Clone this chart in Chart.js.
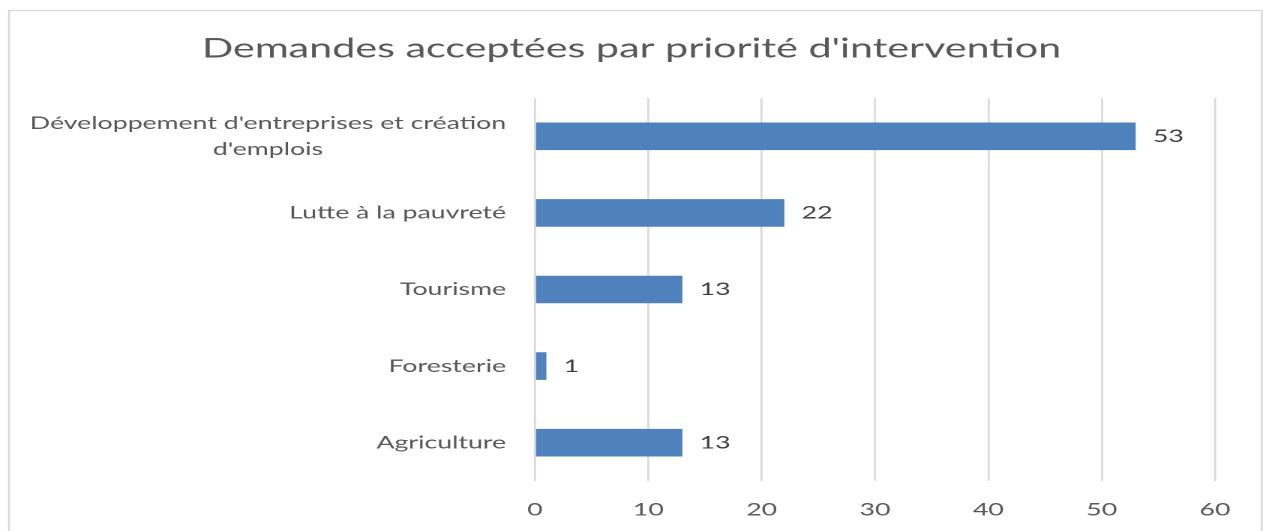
<!DOCTYPE html>
<html><head><meta charset="utf-8">
<script src="https://cdn.jsdelivr.net/npm/chart.js@4"></script>
<style>
html,body{margin:0;padding:0;background:#fff;overflow:hidden;width:1263px;height:531px;}
#wrap{position:absolute;left:0;top:0;width:842px;height:531px;transform:scaleX(1.5);transform-origin:0 0;}
canvas{display:block;}
</style></head><body>
<div id="wrap"><canvas id="c" width="842" height="531" style="width:842px;height:531px"></canvas></div>
<script>
const chartTitle = "Demandes acceptées par priorité d'intervention";
const categories = [["Développement d'entreprises et création", "d'emplois"], "Lutte à la pauvreté", "Tourisme", "Foresterie", "Agriculture"];
const values = [53, 22, 13, 1, 13];
const xMin = 0, xMax = 60, xStep = 10;

const FONT = 'Lato';
const TXT = '#595959';
const SMALL = 17.8;

const borderPlugin = {
  id: 'frame',
  beforeDraw(chart) {
    const ctx = chart.ctx;
    ctx.save();
    ctx.fillStyle = '#ffffff';
    ctx.fillRect(0, 0, chart.width, chart.height);
    ctx.strokeStyle = '#d9d9d9';
    ctx.lineWidth = 1.3;
    ctx.strokeRect(6, 10.5, 835.3, 600);
    ctx.restore();
  }
};

const yLabelPlugin = {
  id: 'yLabels',
  afterDraw(chart) {
    const ctx = chart.ctx;
    const ys = chart.scales.y;
    const right = chart.chartArea.left - 19.3;
    ctx.save();
    ctx.font = SMALL + 'px ' + FONT;
    ctx.fillStyle = TXT;
    ctx.textAlign = 'center';
    ctx.textBaseline = 'middle';
    categories.forEach((lab, i) => {
      const lines = Array.isArray(lab) ? lab : [lab];
      const widest = Math.max(...lines.map(l => ctx.measureText(l).width));
      const cx = right - widest / 2;
      const y = ys.getPixelForTick(i);
      const lh = 26;
      const y0 = y - (lines.length - 1) * lh / 2;
      lines.forEach((l, k) => ctx.fillText(l, cx, y0 + k * lh));
    });
    ctx.restore();
  }
};

const dataLabelPlugin = {
  id: 'dataLabels',
  afterDatasetsDraw(chart) {
    const ctx = chart.ctx;
    const meta = chart.getDatasetMeta(0);
    ctx.save();
    ctx.font = SMALL + 'px ' + FONT;
    ctx.fillStyle = '#404040';
    ctx.textAlign = 'left';
    ctx.textBaseline = 'middle';
    meta.data.forEach((bar, i) => {
      ctx.fillText(String(values[i]), bar.x + 11.5, bar.y);
    });
    ctx.restore();
  }
};

new Chart(document.getElementById('c'), {
  type: 'bar',
  data: {
    labels: categories,
    datasets: [{
      data: values,
      backgroundColor: '#4F81BD',
      borderWidth: 0,
      categoryPercentage: 1,
      barPercentage: 0.36
    }]
  },
  options: {
    indexAxis: 'y',
    responsive: false,
    animation: false,
    devicePixelRatio: 2,
    layout: { padding: { top: 0, right: 0, bottom: 0, left: 0 } },
    plugins: {
      legend: { display: false },
      tooltip: { enabled: false },
      title: {
        display: true,
        text: chartTitle,
        color: TXT,
        font: { family: FONT, size: 27.5, weight: 'normal' },
        padding: { top: 32, bottom: 33 }
      }
    },
    scales: {
      x: {
        type: 'linear',
        min: xMin, max: xMax,
        ticks: { stepSize: xStep, color: TXT, font: { family: FONT, size: SMALL }, padding: 18 },
        grid: { color: '#d9d9d9', lineWidth: 1.3, drawTicks: false },
        border: { display: false },
        afterFit(s) { s.height = 50; }
      },
      y: {
        type: 'category',
        ticks: { display: false },
        grid: { display: false },
        border: { display: false },
        afterFit(s) { s.width = 356.7; }
      },
      yRight: {
        type: 'linear',
        position: 'right',
        display: true,
        ticks: { display: false },
        grid: { display: false },
        border: { display: false },
        afterFit(s) { s.width = 32; }
      }
    }
  },
  plugins: [borderPlugin, yLabelPlugin, dataLabelPlugin]
});
</script>
</body></html>
